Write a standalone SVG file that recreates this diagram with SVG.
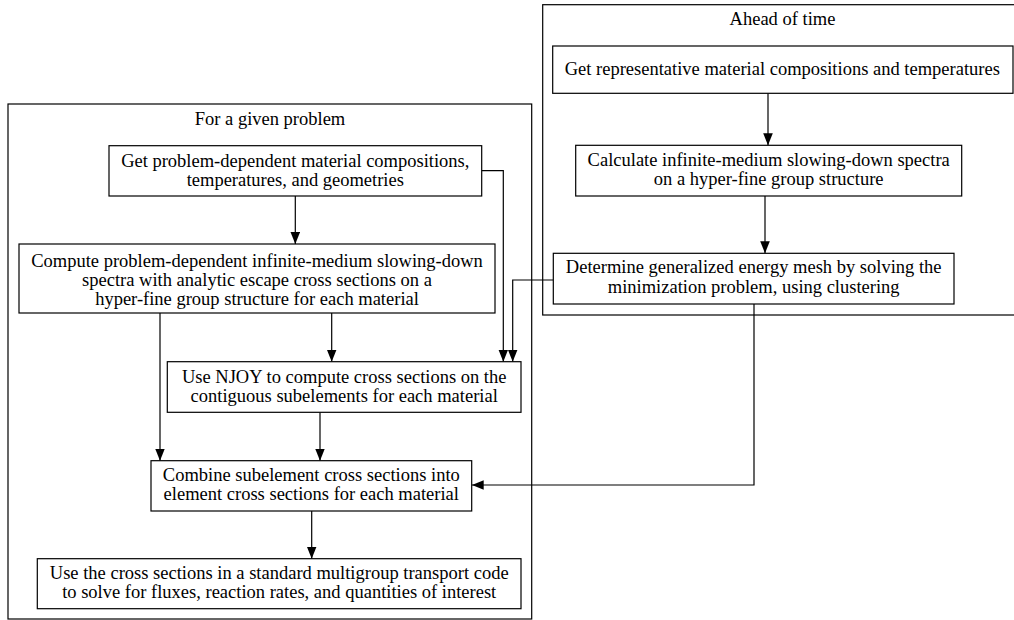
<svg xmlns="http://www.w3.org/2000/svg" width="1014" height="620" viewBox="0 0 1014 620">
<defs>
<style>
.cl{fill:none;stroke:#000;stroke-width:1.2}
.nd{fill:#fff;stroke:#000;stroke-width:1.2}
.t{font-family:"Liberation Serif","Times New Roman",serif;font-size:18.5px;fill:#000;text-anchor:middle}
.e{fill:none;stroke:#000;stroke-width:1.2;marker-end:url(#ah)}
</style>
<marker id="ah" viewBox="0 0 12 10" refX="12" refY="5" markerWidth="12" markerHeight="10" orient="auto" markerUnits="userSpaceOnUse">
<path d="M0,0.2 L12,5 L0,9.8 z" fill="#000"/>
</marker>
</defs>
<rect width="1014" height="620" fill="#fff"/>
<g id="cluster_problem">
<rect class="cl" x="8" y="104" width="523.7" height="515"/>
<text class="t" x="270" y="125">For a given problem</text>
</g>
<g id="cluster_ahead">
<rect class="cl" x="542.7" y="4.7" width="479.6" height="310.3"/>
<text class="t" x="782.5" y="25">Ahead of time</text>
</g>
<g id="connectors">
<path class="e" d="M481.7,170.7 H503.3 V361.7"/>
<path class="e" d="M553.3,280 H512.7 V361.7"/>
<path class="e" d="M295.3,196 V244"/>
<path class="e" d="M331.7,313 V361.7"/>
<path class="e" d="M160,313 V460.7"/>
<path class="e" d="M320,412.3 V460.7"/>
<path class="e" d="M311.7,511 V558.7"/>
<path class="e" d="M768,93.3 V145.3"/>
<path class="e" d="M765,196 V253.3"/>
<path class="e" d="M754,304 V485 H471.7"/>
</g>
<g id="node_get_problem">
<rect class="nd" x="109" y="145.7" width="372.7" height="50.3"/>
<text class="t" x="295.3" y="167">Get problem-dependent material compositions,</text>
<text class="t" x="295.3" y="186">temperatures, and geometries</text>
</g>
<g id="node_compute">
<rect class="nd" x="19" y="244" width="476" height="69"/>
<text class="t" x="257" y="267">Compute problem-dependent infinite-medium slowing-down</text>
<text class="t" x="257" y="286">spectra with analytic escape cross sections on a</text>
<text class="t" x="257" y="305">hyper-fine group structure for each material</text>
</g>
<g id="node_njoy">
<rect class="nd" x="167.3" y="361.7" width="353.7" height="50.6"/>
<text class="t" x="344.2" y="383">Use NJOY to compute cross sections on the</text>
<text class="t" x="344.2" y="402">contiguous subelements for each material</text>
</g>
<g id="node_combine">
<rect class="nd" x="151" y="460.7" width="320.7" height="50.3"/>
<text class="t" x="311.3" y="481">Combine subelement cross sections into</text>
<text class="t" x="311.3" y="500">element cross sections for each material</text>
</g>
<g id="node_use">
<rect class="nd" x="37.3" y="558.7" width="483.7" height="50"/>
<text class="t" x="279.2" y="578.5">Use the cross sections in a standard multigroup transport code</text>
<text class="t" x="279.2" y="597.5">to solve for fluxes, reaction rates, and quantities of interest</text>
</g>
<g id="node_get_rep">
<rect class="nd" x="552.7" y="46" width="460.3" height="47.3"/>
<text class="t" x="782.3" y="75">Get representative material compositions and temperatures</text>
</g>
<g id="node_calc">
<rect class="nd" x="575.7" y="145.3" width="386" height="50.7"/>
<text class="t" x="768.7" y="166">Calculate infinite-medium slowing-down spectra</text>
<text class="t" x="768.7" y="185">on a hyper-fine group structure</text>
</g>
<g id="node_determine">
<rect class="nd" x="553.3" y="253.3" width="400.7" height="50.7"/>
<text class="t" x="753.7" y="273">Determine generalized energy mesh by solving the</text>
<text class="t" x="753.7" y="293">minimization problem, using clustering</text>
</g>
</svg>
